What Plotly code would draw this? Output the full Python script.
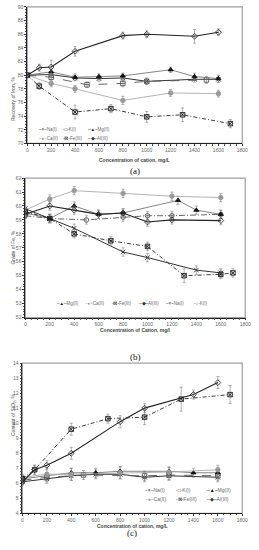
import plotly.graph_objects as go

W, H = 259, 550

# ---------------- DATA ----------------
# (a) Recovery of iron, %
a_na_x = [0, 200, 400, 600, 800, 1000, 1400, 1600]
a_na_y = [80.0, 80.1, 79.6, 79.5, 79.6, 79.1, 79.4, 79.4]
a_na_e = [0.3, 0.4, 0.4, 0.4, 0.5, 0.4, 0.4, 0.5]
a_k_x = [0, 200, 500, 800, 1000, 1500]
a_k_y = [80.0, 79.7, 78.6, 78.8, 79.1, 79.3]
a_k_e = [0.3, 0.4, 0.4, 0.5, 0.5, 0.5]
a_mg_x = [0, 200, 400, 600, 800, 1200, 1400, 1600]
a_mg_y = [80.0, 80.5, 79.7, 79.8, 79.9, 80.8, 79.8, 79.5]
a_mg_e = [0.3, 0.4, 0.5, 0.4, 0.4, 0.4, 0.5, 0.5]
a_ca_x = [0, 200, 400, 800, 1200, 1600]
a_ca_y = [80.0, 78.8, 78.0, 76.3, 77.4, 77.3]
a_ca_e = [0.3, 0.5, 0.5, 0.6, 0.5, 0.5]
a_fe_x = [0, 100, 400, 700, 1000, 1300, 1700]
a_fe_y = [80.0, 78.4, 74.6, 75.1, 73.9, 74.2, 72.9]
a_fe_e = [0.3, 0.5, 1.0, 0.6, 0.8, 1.0, 0.6]
a_al_x = [0, 100, 200, 400, 800, 1000, 1400, 1600]
a_al_y = [80.0, 81.1, 81.2, 83.5, 85.8, 86.0, 85.7, 86.3]
a_al_e = [0.3, 0.5, 1.0, 0.7, 0.5, 0.5, 1.0, 0.5]

# (b) Grade of Fe, %
b_na_x = [0, 200, 400, 800, 1000, 1400, 1600]
b_na_y = [59.8, 59.1, 58.4, 56.7, 56.3, 55.4, 55.2]
b_na_e = [0.2, 0.3, 0.3, 0.3, 0.3, 0.3, 0.3]
b_k_x = [0, 200, 500, 800, 1000, 1200, 1600]
b_k_y = [59.3, 59.1, 59.0, 59.2, 59.3, 59.3, 59.4]
b_k_e = [0.2, 0.3, 0.3, 0.3, 0.3, 0.3, 0.3]
b_mg_x = [0, 200, 400, 600, 800, 1250, 1400, 1600]
b_mg_y = [59.5, 59.1, 60.0, 59.4, 59.5, 60.4, 59.7, 59.4]
b_mg_e = [0.2, 0.3, 0.3, 0.3, 0.3, 0.3, 0.3, 0.3]
b_ca_x = [0, 200, 400, 800, 1200, 1600]
b_ca_y = [59.7, 60.5, 61.1, 60.9, 60.7, 60.6]
b_ca_e = [0.2, 0.3, 0.3, 0.3, 0.3, 0.3]
b_fe_x = [0, 200, 400, 700, 1000, 1300, 1600, 1700]
b_fe_y = [59.6, 59.1, 58.0, 57.5, 57.1, 55.0, 55.1, 55.2]
b_fe_e = [0.2, 0.3, 0.3, 0.3, 0.3, 0.5, 0.3, 0.3]
b_al_x = [0, 200, 400, 600, 800, 1000, 1200, 1600]
b_al_y = [59.4, 60.0, 59.7, 59.4, 59.5, 58.85, 59.0, 58.95]
b_al_e = [0.2, 0.3, 0.3, 0.3, 0.3, 0.3, 0.3, 0.3]

# (c) Content of SiO2, %
c_na_x = [0, 200, 400, 600, 800, 1000, 1200, 1600]
c_na_y = [6.1, 6.3, 6.5, 6.6, 6.6, 6.4, 6.5, 6.4]
c_na_e = [0.2, 0.3, 0.3, 0.3, 0.3, 0.3, 0.3, 0.3]
c_k_x = [0, 200, 500, 1000, 1200, 1600]
c_k_y = [6.2, 6.4, 6.55, 6.5, 6.55, 6.5]
c_k_e = [0.2, 0.3, 0.3, 0.3, 0.3, 0.3]
c_mg_x = [0, 400, 600, 800, 1200, 1400, 1600]
c_mg_y = [6.3, 6.7, 6.7, 6.8, 6.8, 6.7, 6.7]
c_mg_e = [0.2, 0.3, 0.3, 0.3, 0.3, 0.3, 0.3]
c_ca_x = [0, 200, 400, 800, 1200, 1600]
c_ca_y = [6.4, 6.6, 6.6, 6.7, 6.75, 6.9]
c_ca_e = [0.2, 0.4, 0.4, 0.4, 0.3, 0.3]
c_fe_x = [0, 100, 400, 700, 1000, 1300, 1700]
c_fe_y = [6.3, 6.9, 9.6, 10.3, 10.4, 11.6, 11.9]
c_fe_e = [0.2, 0.3, 0.4, 0.3, 0.5, 0.8, 0.6]
c_al_x = [0, 100, 200, 400, 800, 1000, 1400, 1600]
c_al_y = [6.1, 6.9, 7.2, 8.0, 10.1, 11.0, 11.9, 12.7]
c_al_e = [0.2, 0.3, 0.3, 0.4, 0.4, 0.3, 0.3, 0.4]

x_ticks = [0, 200, 400, 600, 800, 1000, 1200, 1400, 1600, 1800]

# ---------------- STYLE ----------------
FONT = "Liberation Sans, Arial, sans-serif"
STY = {
    "Na(I)":  dict(color="#333333", dash="solid",   sym="x-thin-open",   mcol="#333333", lw=1.0),
    "K(I)":   dict(color="#555555", dash="dash",    sym="square-open",   mcol="#555555", lw=0.9),
    "Mg(II)": dict(color="#777777", dash="solid",   sym="triangle-up",   mcol="#111111", lw=0.9),
    "Ca(II)": dict(color="#aaaaaa", dash="solid",   sym="circle",        mcol="#999999", lw=0.9),
    "Fe(III)": dict(color="#222222", dash="4px,2px,1px,2px", sym="square-x-open", mcol="#222222", lw=0.9),
    "Al(III)": dict(color="#222222", dash="solid",  sym="diamond-open",  mcol="#333333", lw=1.1),
}

fig = go.Figure()


def px_x(p):
    return p / W


def px_y(p):
    return 1 - p / H


panels = [
    dict(ax="", xd=(27, 248), yd=(4, 142), yr=(70, 90), dy=2, mdy=0.4,
         series=[("Na(I)", a_na_x, a_na_y, a_na_e), ("K(I)", a_k_x, a_k_y, a_k_e),
                 ("Mg(II)", a_mg_x, a_mg_y, a_mg_e), ("Ca(II)", a_ca_x, a_ca_y, a_ca_e),
                 ("Fe(III)", a_fe_x, a_fe_y, a_fe_e), ("Al(III)", a_al_x, a_al_y, a_al_e)],
         ytitle="Recovery of Iron, %", xtitle="<b>Concentration of cation, mg/L</b>",
         xtitle_y=155, lab="(a)", lab_y=163.5, ksym="square-open", kdash="dash"),
    dict(ax="2", xd=(25, 251), yd=(177, 318), yr=(52, 62), dy=1, mdy=0.2,
         series=[("Na(I)", b_na_x, b_na_y, b_na_e), ("K(I)", b_k_x, b_k_y, b_k_e),
                 ("Mg(II)", b_mg_x, b_mg_y, b_mg_e), ("Ca(II)", b_ca_x, b_ca_y, b_ca_e),
                 ("Fe(III)", b_fe_x, b_fe_y, b_fe_e), ("Al(III)", b_al_x, b_al_y, b_al_e)],
         ytitle="Grade of Fe, %", xtitle="<b>Concentration of Cation, mg/l</b>",
         xtitle_y=331, lab="(b)", lab_y=358, ksym="circle-open", kdash="6px,2px,1px,2px"),
    dict(ax="3", xd=(22, 248), yd=(364, 516), yr=(4, 14), dy=1, mdy=0.2,
         series=[("Na(I)", c_na_x, c_na_y, c_na_e), ("K(I)", c_k_x, c_k_y, c_k_e),
                 ("Mg(II)", c_mg_x, c_mg_y, c_mg_e), ("Ca(II)", c_ca_x, c_ca_y, c_ca_e),
                 ("Fe(III)", c_fe_x, c_fe_y, c_fe_e), ("Al(III)", c_al_x, c_al_y, c_al_e)],
         ytitle="Content of SiO<sub>2</sub>, %", xtitle="<b>Concentration of cation, mg/L</b>",
         xtitle_y=533, lab="(c)", lab_y=542, ksym="square-open", kdash="dash"),
]

annotations = []
shapes = []
for p in panels:
    xa, ya = "x" + p["ax"], "y" + p["ax"]
    for name, xs, ys, es in p["series"]:
        s = STY[name]
        sym = s["sym"]
        dash = s["dash"]
        if name == "K(I)":
            sym, dash = p["ksym"], p["kdash"]
        fig.add_trace(go.Scatter(
            x=xs, y=ys, name=name, mode="lines+markers", xaxis=xa, yaxis=ya,
            showlegend=False,
            line=dict(color=s["color"], width=s["lw"], dash=dash),
            marker=dict(symbol=sym, size=4.5, color=s["mcol"],
                        line=dict(color=s["mcol"], width=0.9)),
            error_y=dict(type="data", array=es, visible=True, color="#808080",
                         thickness=0.6, width=1.5),
        ))
    xkey = "xaxis" + p["ax"]
    ykey = "yaxis" + p["ax"]
    fig.update_layout({
        xkey: dict(domain=[px_x(p["xd"][0]), px_x(p["xd"][1])], anchor=ya,
                   range=[0, 1800], tickvals=x_ticks, ticks="outside", ticklen=1.5,
                   tickwidth=0.6, tickcolor="#333", showline=True, linecolor="#222",
                   linewidth=0.8, showgrid=False, zeroline=False,
                   tickfont=dict(size=5, color="#666", family=FONT),
                   minor=dict(dtick=50, ticks="outside", ticklen=1.2, tickcolor="#555",
                              tickwidth=0.5)),
        ykey: dict(domain=[px_y(p["yd"][1]), px_y(p["yd"][0])], anchor=xa,
                   range=list(p["yr"]), dtick=p["dy"], ticks="outside", ticklen=2,
                   tickwidth=0.6, tickcolor="#333", showline=True, linecolor="#222",
                   linewidth=0.8, showgrid=False, zeroline=False,
                   tickfont=dict(size=5, color="#666", family=FONT),
                   minor=dict(dtick=p["mdy"], ticks="outside", ticklen=1.2,
                              tickcolor="#555", tickwidth=0.5)),
    })
    # plot-area frame (grey right/top border)
    shapes.append(dict(type="rect", xref=xa + " domain", yref=ya + " domain",
                       x0=0, x1=1, y0=0, y1=1, line=dict(color="#a0a0a0", width=1.2),
                       layer="below"))
    ymid = (p["yd"][0] + p["yd"][1]) / 2
    annotations.append(dict(text=p["ytitle"], x=px_x(7), y=px_y(ymid), xref="paper",
                            yref="paper", textangle=-90, showarrow=False,
                            font=dict(size=5, color="#444", family=FONT)))
    xmid = (p["xd"][0] + p["xd"][1]) / 2
    annotations.append(dict(text=p["xtitle"], x=px_x(xmid), y=px_y(p["xtitle_y"]),
                            xref="paper", yref="paper", showarrow=False, borderpad=0,
                            font=dict(size=5, color="#444", family=FONT)))
    annotations.append(dict(text=p["lab"], x=px_x(xmid), y=px_y(p["lab_y"]),
                            xref="paper", yref="paper", showarrow=False, borderpad=0,
                            font=dict(size=9, color="#111",
                                      family="Liberation Serif, Times New Roman, serif")))

# legends built as text entries
LEG = {
    "Na(I)": ("#333", "–×–"),
    "K(I)": ("#555", "-□-"),
    "Mg(II)": ("#111", "–▲–"),
    "Ca(II)": ("#999", "–●–"),
    "Fe(III)": ("#222", "-⊠-"),
    "Al(III)": ("#333", "–◆–"),
}
KLEG_B = ("#555", "-○-")


def leg(name, x, y, kalt=None, size=4.5):
    col, sym = LEG[name]
    if kalt is not None:
        col, sym = kalt
    annotations.append(dict(
        text='<span style="color:%s">%s</span>%s' % (col, sym, name),
        x=px_x(x), y=px_y(y), xref="paper", yref="paper", xanchor="left",
        showarrow=False, borderpad=0, font=dict(size=size, color="#666", family=FONT)))


for i, n in enumerate(["Na(I)", "K(I)", "Mg(II)"]):
    leg(n, 38 + i * 25, 124.5)
for i, n in enumerate(["Ca(II)", "Fe(III)", "Al(III)"]):
    leg(n, 38 + i * 25, 133)
for i, n in enumerate(["Mg(II)", "Ca(II)", "Fe(III)", "Al(III)", "Na(I)", "K(I)"]):
    leg(n, 57 + i * 28, 304, KLEG_B if n == "K(I)" else None)
for i, n in enumerate(["Na(I)", "K(I)", "Mg(II)"]):
    leg(n, 147 + i * 32, 496, size=5)
for i, n in enumerate(["Ca(II)", "Fe(III)", "Al(III)"]):
    leg(n, 147 + i * 32, 505.5, size=5)

fig.update_layout(
    width=W, height=H, margin=dict(l=0, r=0, t=0, b=0),
    paper_bgcolor="white", plot_bgcolor="white",
    font=dict(family=FONT, size=6, color="#444"),
    annotations=annotations, shapes=shapes, showlegend=False,
)

fig.write_html("out.html", config={"displayModeBar": False},
               post_script="document.body.style.margin='0px';document.body.style.overflow='hidden';")
